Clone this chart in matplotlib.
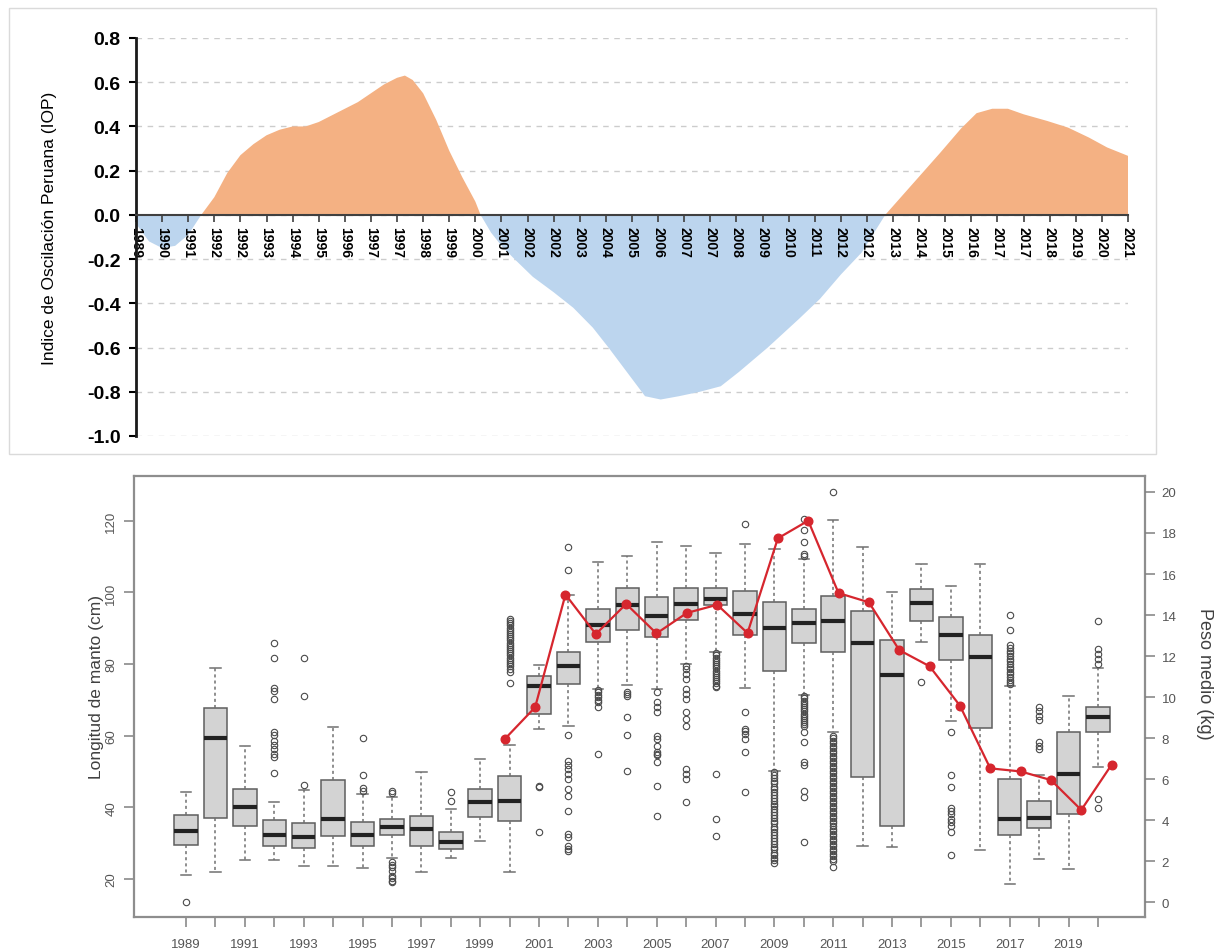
import matplotlib
matplotlib.use("Agg")
import matplotlib.pyplot as plt
from matplotlib.patches import Rectangle

plt.rcParams['font.family'] = ['Liberation Sans', 'DejaVu Sans']

# ---- Indice de Oscilacion Peruana (panel superior) ----
iop_labels = ['1989', '1990', '1991', '1992', '1992', '1993', '1994', '1995', '1996',
              '1997', '1997', '1998', '1999', '2000', '2001', '2002', '2002', '2003',
              '2004', '2005', '2006', '2007', '2007', '2008', '2009', '2010', '2011',
              '2012', '2012', '2013', '2014', '2015', '2016', '2017', '2017', '2018',
              '2019', '2020', '2021']
# posicion sobre el eje de fechas (en numero de marca) y valor del indice
iop_t = [0, 0.5, 1.0, 1.5, 2.0, 2.5, 3.0, 3.5, 4.0, 4.5, 5.0, 5.5, 6.0, 6.5, 7.0, 7.5,
         8.0, 8.5, 9.0, 9.5, 10.0, 10.3, 10.6, 11.0, 11.5, 12.0, 12.5, 13.0, 13.2, 13.6,
         14.0, 14.5, 15.2, 16.0, 16.75, 17.5, 18.1, 18.8, 19.5, 20.1, 20.8, 21.6, 22.4,
         23.1, 24.2, 25.4, 26.2, 27.0, 27.8, 28.7, 29.9, 30.8, 31.6, 32.2, 32.8, 33.4,
         34.0, 34.9, 35.7, 36.5, 37.2, 38.0]
iop = [-0.04, -0.12, -0.15, -0.14, -0.09, 0.0, 0.08, 0.19, 0.27, 0.32, 0.36, 0.385,
       0.40, 0.40, 0.42, 0.45, 0.48, 0.51, 0.55, 0.59, 0.62, 0.63, 0.61, 0.55, 0.43,
       0.29, 0.17, 0.06, 0.0, -0.08, -0.14, -0.20, -0.28, -0.35, -0.42, -0.51, -0.60,
       -0.71, -0.82, -0.835, -0.82, -0.80, -0.775, -0.71, -0.60, -0.47, -0.38, -0.27,
       -0.17, 0.0, 0.16, 0.28, 0.39, 0.46, 0.48, 0.48, 0.455, 0.425, 0.395, 0.35,
       0.305, 0.267]

# ---- Longitud de manto por anio (cm) ----
years = list(range(1989, 2021))
q1 = [29.5, 37.0, 34.7, 29.1, 28.7, 32.1, 29.3, 32.3, 29.3, 28.4, 37.2, 36.3, 66.0,
      74.4, 86.2, 89.6, 87.5, 92.2, 96.4, 88.0, 78.2, 85.8, 83.5, 48.5, 34.9, 91.9,
      81.0, 62.1, 32.3, 34.2, 38.2, 61.1]
med = [33.5, 59.3, 40.2, 32.3, 31.8, 36.7, 32.3, 34.6, 34.0, 30.4, 41.4, 41.9, 74.0,
       79.5, 90.9, 96.5, 93.3, 96.8, 98.2, 94.0, 90.1, 91.4, 91.9, 85.8, 77.0, 97.0,
       88.2, 82.1, 36.8, 37.0, 49.3, 65.2]
q3 = [37.9, 67.8, 45.1, 36.5, 35.5, 47.6, 35.8, 36.7, 37.7, 33.2, 45.1, 48.8, 76.7,
      83.4, 95.3, 101.1, 98.7, 101.2, 101.2, 100.3, 97.3, 95.4, 99.1, 94.9, 86.8,
      101.0, 93.1, 88.0, 47.9, 41.9, 61.0, 67.9]
wlo = [21.1, 21.9, 25.4, 25.2, 23.5, 23.7, 23.0, 26.0, 21.9, 25.8, 30.7, 21.9, 62.0,
       62.6, 73.0, 74.1, 73.1, 80.1, 83.3, 73.3, 50.2, 71.4, 61.0, 29.3, 29.0, 86.1,
       64.2, 28.2, 18.6, 25.6, 22.8, 51.2]
whi = [44.4, 79.0, 57.2, 41.6, 44.8, 62.3, 43.7, 42.8, 50.0, 39.5, 53.5, 57.4, 79.7,
       99.3, 108.4, 110.2, 114.0, 112.9, 111.0, 113.6, 112.2, 109.4, 120.3, 112.6,
       100.1, 108.0, 101.9, 108.0, 73.8, 49.0, 71.0, 78.8]
outliers = [
    [13.7],
    [],
    [],
    [86.0, 81.8, 73.4, 72.6, 70.2, 61.1, 60.2, 58.6, 57.4, 56.3, 54.9, 54.1, 49.5],
    [81.8, 71.0, 46.2],
    [],
    [59.3, 49.0, 45.3, 44.7],
    [44.7, 43.9, 24.7, 23.9, 23.3, 22.3, 20.9, 20.2, 19.5, 19.1],
    [],
    [44.4, 41.9],
    [],
    [92.6, 92.0, 91.4, 90.8, 90.2, 89.6, 89.0, 88.4, 87.8, 87.2, 86.6, 86.0, 85.4,
     84.8, 84.2, 83.6, 83.0, 82.4, 81.8, 81.2, 80.6, 80.0, 79.4, 78.6, 77.7, 74.7],
    [45.9, 45.6, 33.2],
    [112.8, 106.2, 60.2, 53.0, 51.8, 50.7, 49.3, 47.9, 45.1, 43.3, 39.1, 32.6, 31.6,
     29.3, 28.4, 27.9],
    [72.8, 72.1, 71.3, 70.7, 70.0, 69.3, 67.9, 54.9],
    [72.1, 71.6, 71.0, 65.1, 60.2, 50.2],
    [72.1, 69.3, 67.9, 66.6, 60.0, 59.1, 57.2, 55.4, 54.9, 54.5, 52.6, 46.1, 37.7],
    [79.6, 78.7, 77.3, 75.9, 73.1, 71.7, 70.3, 66.6, 64.7, 62.8, 50.7, 49.3, 47.9, 41.4],
    [83.0, 82.4, 81.8, 81.2, 80.6, 80.0, 79.4, 78.8, 78.2, 77.6, 77.0, 76.4, 75.8,
     75.2, 74.6, 74.0, 73.5, 49.3, 36.8, 32.1],
    [119.2, 66.6, 61.9, 61.4, 60.5, 59.1, 55.4, 44.2],
    [49.8, 49.1, 48.3, 47.4, 46.7, 45.8, 45.1, 44.3, 43.4, 42.7, 41.9, 41.0, 40.3,
     39.5, 38.6, 37.9, 37.1, 36.2, 35.5, 34.6, 33.9, 33.0, 32.3, 31.5, 30.6, 29.9,
     29.0, 28.3, 27.4, 26.7, 25.9, 25.2, 24.6],
    [120.6, 117.3, 114.1, 110.8, 110.3, 71.0, 70.4, 69.8, 69.2, 68.6, 68.0, 67.4,
     66.8, 66.2, 65.6, 65.0, 64.4, 63.8, 63.2, 62.8, 61.0, 58.3, 52.7, 51.7, 44.7,
     42.9, 30.3],
    [128.1, 60.0, 59.3, 58.6, 57.9, 57.2, 56.5, 55.8, 55.1, 54.4, 53.7, 53.0, 52.3,
     51.6, 50.9, 50.2, 49.5, 48.8, 48.1, 47.4, 46.7, 46.0, 45.3, 44.6, 43.9, 43.2,
     42.5, 41.8, 41.1, 40.4, 39.7, 39.0, 38.3, 37.6, 36.9, 36.2, 35.5, 34.8, 34.1,
     33.4, 32.7, 32.0, 31.3, 30.6, 29.9, 29.2, 28.5, 27.8, 27.1, 26.4, 25.7, 25.1,
     23.3],
    [],
    [],
    [74.9],
    [61.0, 48.9, 45.6, 39.7, 39.1, 38.2, 36.8, 35.8, 34.9, 33.0, 26.7],
    [],
    [93.6, 89.6, 85.2, 84.4, 83.7, 83.0, 82.2, 81.5, 80.8, 80.0, 79.3, 78.6, 77.8,
     77.1, 76.4, 75.6, 74.9, 74.3],
    [68.0, 66.9, 65.6, 64.3, 58.3, 57.2, 56.3],
    [],
    [91.9, 84.3, 82.8, 81.4, 80.0, 42.3, 39.7],
]

# ---- Peso medio (kg) ----
peso_years = list(range(2000, 2021))
peso = [7.95, 9.5, 15.0, 13.07, 14.54, 13.1, 14.1, 14.5, 13.12, 17.74, 18.6, 15.07,
        14.62, 12.29, 11.5, 9.58, 6.52, 6.37, 5.95, 4.49, 6.7]

W, H = 1225, 953
fig = plt.figure(figsize=(W / 100, H / 100), dpi=100, facecolor='w')

# marco gris claro del grafico superior
fig.add_artist(Rectangle((9 / W, 1 - 455 / H), (1156 - 9) / W, (455 - 9) / H,
                         transform=fig.transFigure, fill=False,
                         edgecolor='#dadada', lw=1))

ax1 = fig.add_axes([136 / W, 1 - 437 / H, (1128 - 136) / W, (437 - 39) / H])
# los ejes se colocan primero: set_position reinicia las marcas
for s in ['top', 'right']:
    ax1.spines[s].set_visible(False)
ax1.spines['left'].set_linewidth(2)
ax1.spines['left'].set_color('#1a1a1a')
ax1.spines['bottom'].set_position(('data', 0))
ax1.spines['bottom'].set_color('#404040')
ax1.spines['bottom'].set_linewidth(1.5)

yt = [-1.0 + 0.2 * k for k in range(10)]
# lineas de rejilla por debajo del area rellena
for v in yt:
    ax1.axhline(v, linestyle=(0, (4, 4)), color='#cccccc', lw=1, zorder=0)

ax1.fill_between(iop_t, iop, 0, where=[v >= 0 for v in iop], interpolate=True,
                 color='#f4b183', lw=0, zorder=1)
ax1.fill_between(iop_t, iop, 0, where=[v <= 0 for v in iop], interpolate=True,
                 color='#bcd5ee', lw=0, zorder=1)
ax1.set_xlim(0, len(iop_labels) - 1)
ax1.set_ylim(-1.0, 0.8)
ax1.set_yticks(yt)
ax1.set_yticklabels(['%.1f' % v if abs(v) > 1e-9 else '0.0' for v in yt],
                    fontsize=14, fontweight='bold')
ax1.set_xticks(range(len(iop_labels)))
ax1.set_xticklabels(iop_labels, rotation=-90, fontsize=10, fontweight='bold')
ax1.tick_params(axis='y', direction='out', length=5, width=1.5, pad=6)
ax1.tick_params(axis='x', direction='out', length=5, width=1.2, pad=3, color='#404040')
fig.text(50 / W, 1 - 228 / H, 'Indice de Oscilación Peruana (IOP)', rotation=90,
         ha='center', va='center', fontsize=12.5)

# ---- grafico inferior: cajas + peso medio ----
grey = '#555555'
ax2 = fig.add_axes([134 / W, 1 - 918 / H, (1145 - 134) / W, (918 - 477) / H])
stats = []
for i in range(len(years)):
    stats.append({'med': med[i], 'q1': q1[i], 'q3': q3[i], 'whislo': wlo[i],
                  'whishi': whi[i], 'fliers': outliers[i]})
ax2.bxp(stats, positions=years, widths=0.8, patch_artist=True, capwidths=0.35,
        boxprops=dict(facecolor='#d3d3d3', edgecolor='#5e5e5e', lw=1.1),
        medianprops=dict(color='#222222', lw=3),
        whiskerprops=dict(color='#707070', lw=1.1, linestyle=(0, (2, 2))),
        capprops=dict(color='#707070', lw=1.1),
        flierprops=dict(marker='o', mfc='none', mec='#4a4a4a', ms=4.6, mew=0.8))
ax2.set_xlim(1987.23, 2021.6)
ax2.set_ylim(9.4, 132.5)
ax2.set_yticks([20, 40, 60, 80, 100, 120])
ax2.set_yticklabels(['20', '40', '60', '80', '100', '120'], rotation=90, va='center',
                    fontsize=9.5, color=grey)
ax2.set_xticks(years)
ax2.set_xticklabels([str(y) if (y - 1989) % 2 == 0 else '' for y in years],
                    fontsize=9.5, color=grey)
for s in ax2.spines.values():
    s.set_color('#8e8e8e')
    s.set_linewidth(1.6)
ax2.tick_params(direction='out', length=7, width=1.1, color='#808080', pad=8)
ax2.tick_params(axis='y', pad=5)
fig.text(96 / W, 1 - 687 / H, 'Longitud de manto (cm)', rotation=90, ha='center',
         va='center', fontsize=12.5, color='#404040')

ax3 = fig.add_axes(ax2.get_position(), frameon=False)
ax3.plot(peso_years, peso, color='#d6262e', lw=1.6, marker='o', ms=6.2,
         mfc='#d6262e', mec='#d6262e')
ax3.set_xlim(1987.78, 2021.1)
ax3.set_ylim(-0.73, 20.78)
ax3.xaxis.set_visible(False)
ax3.yaxis.tick_right()
ax3.set_yticks(range(0, 21, 2))
ax3.set_yticklabels([str(v) for v in range(0, 21, 2)], fontsize=9.5, color=grey)
ax3.tick_params(direction='out', length=7, width=1.1, color='#808080', pad=5)
fig.text(1205 / W, 1 - 674 / H, 'Peso medio (kg)', rotation=270, ha='center',
         va='center', fontsize=13, color='#404040')

plt.savefig('out.png', dpi=100)
